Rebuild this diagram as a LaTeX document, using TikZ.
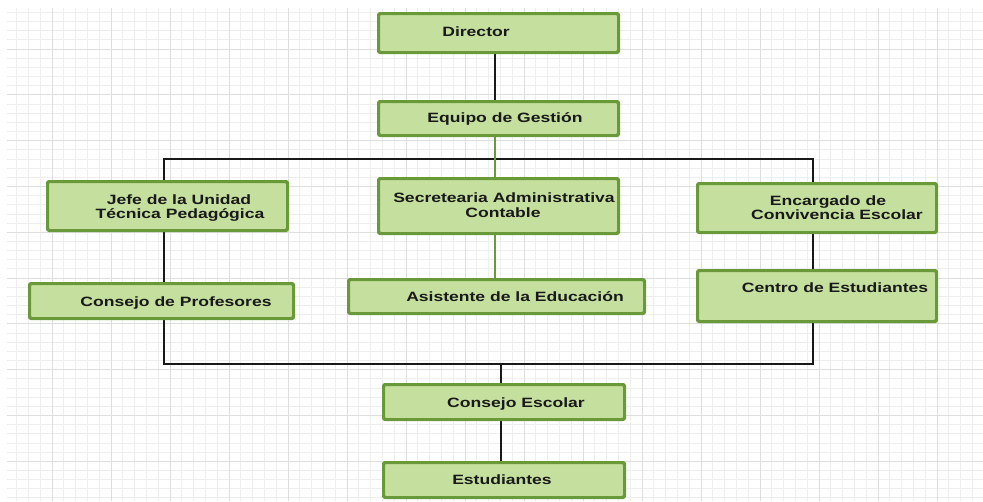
\documentclass[tikz,border=0pt]{standalone}
\usepackage{fontspec}
\newfontfamily\labfont[FakeStretch=1.3]{Liberation Sans}
\usetikzlibrary{calc}
\definecolor{boxfill}{RGB}{197,224,158}
\definecolor{boxline}{RGB}{106,153,58}
\definecolor{gridminor}{RGB}{238,238,238}
\definecolor{gridmajor}{RGB}{222,222,222}
\definecolor{txt}{RGB}{25,25,25}
\tikzset{
  orgbox/.style={draw=boxline, fill=boxfill, line width=2pt, rounded corners=2pt, inner sep=0pt, anchor=center},
  lab/.style={font=\labfont\bfseries\fontsize{13.5}{14}\selectfont, text=txt, inner sep=0pt, anchor=base},
  blk/.style={draw=black!90, line width=2pt},
  grn/.style={draw=boxline, line width=2pt},
}
\begin{document}
\begin{tikzpicture}[x=1pt,y=-1pt]
\useasboundingbox (0,0) rectangle (983,501);
\fill[white] (0,0) rectangle (983,501);
% grid
\begin{scope}
\clip (7,8) rectangle (983,501);
\foreach \k in {-4,...,79} {\draw[gridminor, line width=0.7pt] ({52+11.8*\k},0) -- ({52+11.8*\k},501);}
\foreach \k in {-4,...,50} {\draw[gridminor, line width=0.7pt] (0,{49+9.16*\k}) -- (983,{49+9.16*\k});}
\foreach \k in {0,5,...,75} {\draw[gridmajor, line width=0.9pt] ({52+11.8*\k},0) -- ({52+11.8*\k},501);}
\foreach \k in {0,5,...,45} {\draw[gridmajor, line width=0.9pt] (0,{49+9.16*\k}) -- (983,{49+9.16*\k});}
\end{scope}
% boxes (shapes only; text below)
\path
  (498.5,33)   node[orgbox, minimum width=239pt, minimum height=38pt] (dir) {}
  (498.5,118.5) node[orgbox, minimum width=239pt, minimum height=33pt] (eq) {}
  (167.5,206)  node[orgbox, minimum width=239pt, minimum height=48pt] (jefe) {}
  (498.5,206)  node[orgbox, minimum width=239pt, minimum height=54pt] (sec) {}
  (817,208)    node[orgbox, minimum width=238pt, minimum height=48pt] (enc) {}
  (161.5,301)  node[orgbox, minimum width=263pt, minimum height=34pt] (prof) {}
  (496.5,296.5) node[orgbox, minimum width=295pt, minimum height=33pt] (asis) {}
  (817,296)    node[orgbox, minimum width=238pt, minimum height=50pt] (centro) {}
  (504,402)    node[orgbox, minimum width=240pt, minimum height=34pt] (cesc) {}
  (504,480)    node[orgbox, minimum width=240pt, minimum height=34pt] (est) {};
% connector coordinates
\coordinate (gx) at (495,0);
\coordinate (busL) at (164,159);
\coordinate (busR) at (813,159);
\coordinate (botL) at (164,364);
\coordinate (botR) at (813,364);
\coordinate (bx) at (501,364);
% connectors
\begin{scope}[on background layer/.style={}]
\draw[blk] (dir.south -| gx) -- (eq.north -| gx);
\draw[blk] (jefe.north -| busL) -- (busL) -- (busR) -- (enc.north -| busR);
\draw[blk] (jefe.south -| busL) -- (prof.north -| busL);
\draw[blk] (enc.south -| busR) -- (centro.north -| busR);
\draw[blk] (prof.south -| botL) -- (botL) -- (botR) -- (centro.south -| botR);
\draw[blk] (bx) -- (cesc.north -| bx);
\draw[blk] (cesc.south -| bx) -- (est.north -| bx);
\draw[grn] (eq.south -| gx) -- (sec.north -| gx);
\draw[grn] (sec.south -| gx) -- (asis.north -| gx);
\end{scope}
% redraw boxes over connector ends
\foreach \n in {dir,eq,jefe,sec,enc,prof,asis,centro,cesc,est} {
  \draw[draw=boxline, line width=2pt, rounded corners=2pt] (\n.north west) rectangle (\n.south east);
}
% texts
\node[lab] (tdir) at (476,36) {Director};
\node[lab] (teq) at (505,122) {Equipo de Gestión};
\node[lab] (tjefe1) at (179,204) {Jefe de la Unidad};
\node[lab] (tjefe2) at (180,218) {Técnica Pedagógica};
\node[lab] (tsec1) at (504,202) {Secretearia Administrativa};
\node[lab] (tsec2) at (503,217) {Contable};
\node[lab] (tenc1) at (828,205) {Encargado de};
\node[lab] (tenc2) at (837,219) {Convivencia Escolar};
\node[lab] (tprof) at (176,306) {Consejo de Profesores};
\node[lab] (tasis) at (515,301) {Asistente de la Educación};
\node[lab] (tcentro) at (835,292) {Centro de Estudiantes};
\node[lab] (tcesc) at (516,407) {Consejo Escolar};
\node[lab] (test) at (502,484) {Estudiantes};
\end{tikzpicture}
\end{document}
